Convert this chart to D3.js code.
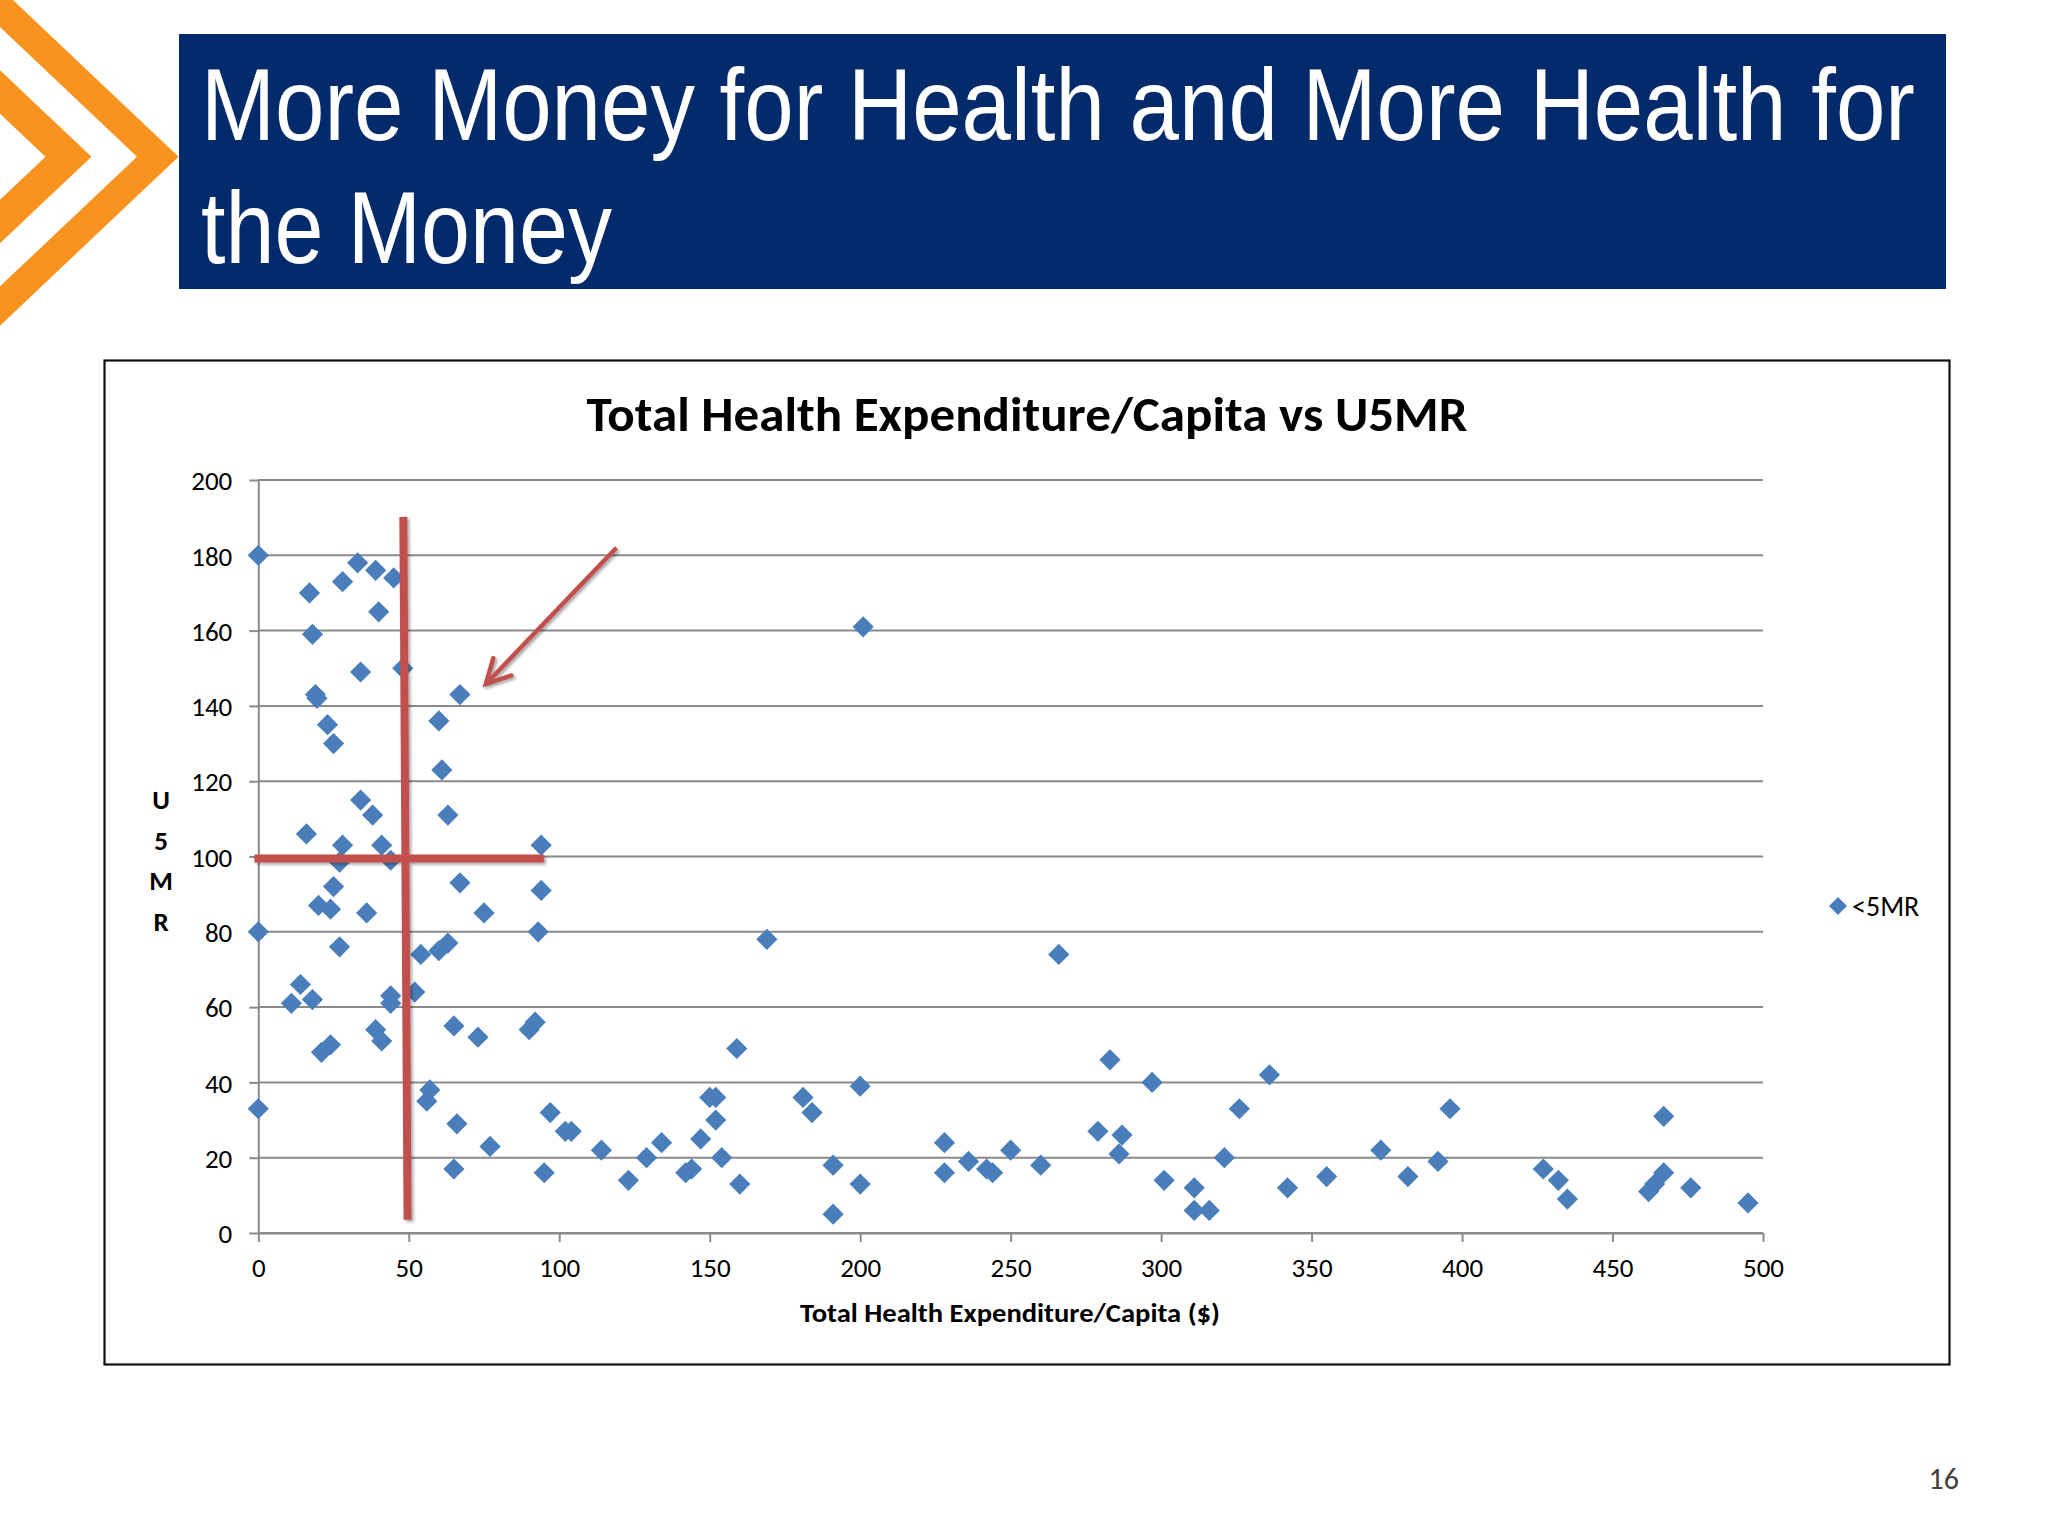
<!DOCTYPE html>
<html>
<head>
<meta charset="utf-8">
<script src="https://cdn.jsdelivr.net/npm/d3@7"></script>
<style>
  html, body { margin: 0; padding: 0; background: #ffffff; }
  svg { display: block; }
</style>
</head>
<body>
<script>
// ---------- data ----------
const healthExpenditure = [
  0, 17, 28, 33, 39, 45, 40, 18, 34, 48, 19, 19.5, 67, 23, 25, 60, 61, 63, 34, 38,
  16, 28, 41, 94, 27, 44, 25, 20, 24, 36, 27, 0, 67, 75, 94, 93, 54, 60, 63, 52,
  14, 11, 18, 44, 44, 39, 41, 21, 24, 65, 73, 90, 92, 0, 57, 56, 66, 77, 65, 97,
  102, 104, 95, 169, 159, 150, 152, 152, 147, 154, 160, 142, 144, 134, 129, 123, 114, 181, 184, 200,
  191, 200, 191, 228, 228, 236, 242, 244, 250, 201, 260, 266, 279, 283, 287, 286, 297, 301, 311, 311,
  316, 321, 326, 336, 342, 355, 373, 382, 392, 396, 427, 432, 435, 467, 467, 464, 462, 476, 495
];
const u5mr = [
  180, 170, 173, 178, 176, 174, 165, 159, 149, 150, 143, 142, 143, 135, 130, 136, 123, 111, 115, 111,
  106, 103, 103, 103, 98.5, 99, 92, 87, 86, 85, 76, 80, 93, 85, 91, 80, 74, 75, 77, 64,
  66, 61, 62, 63, 61, 54, 51, 48, 50, 55, 52, 54, 56, 33, 38, 35, 29, 23, 17, 32,
  27, 27, 16, 78, 49, 36, 36, 30, 25, 20, 13, 16, 17, 24, 20, 14, 22, 36, 32, 39,
  18, 13, 5, 24, 16, 19, 17, 16, 22, 161, 18, 74, 27, 46, 26, 21, 40, 14, 12, 6,
  6, 20, 33, 42, 12, 15, 22, 15, 19, 33, 17, 14, 9, 31, 16, 13, 11, 12, 8
];
const xTicks = [0, 50, 100, 150, 200, 250, 300, 350, 400, 450, 500];
const yTicks = [0, 20, 40, 60, 80, 100, 120, 140, 160, 180, 200];
const seriesName = "<5MR";
const slideTitle = ["More Money for Health and More Health for", "the Money"];
const chartTitle = "Total Health Expenditure/Capita vs U5MR";
const xAxisTitle = "Total Health Expenditure/Capita ($)";
const yAxisLetters = ["U", "5", "M", "R"];
const pageNumber = "16";
// annotation lines (in data units)
const verticalMarker = [[48.2, 190.2], [49.6, 3.5]];
const horizontalMarker = [[-1.3, 99.5], [94.9, 99.5]];
const arrowMarker = [[119, 182], [75.6, 145.8]];

// ---------- page ----------
const W = 2048, H = 1536;
const svg = d3.select("body").append("svg").attr("width", W).attr("height", H);
const defs = svg.append("defs");
const f = defs.append("filter").attr("id", "shadow").attr("x", "-20%").attr("y", "-20%").attr("width", "140%").attr("height", "140%");
f.append("feDropShadow").attr("dx", 2).attr("dy", 2).attr("stdDeviation", 1.6)
  .attr("flood-color", "#000").attr("flood-opacity", 0.35);

svg.append("rect").attr("width", W).attr("height", H).attr("fill", "#ffffff");

// chevrons
const orange = "#f7931e";
const chevrons = [
  [[-40, -50.1], [178.6, 156.7], [-40, 363.5], [-40, 324.2], [137, 156.7], [-40, -10.8]],
  [[-40, 32.3], [91.5, 156.7], [-40, 281.1], [-40, 237.6], [45.5, 156.7], [-40, 75.8]]
];
svg.selectAll("polygon.chev").data(chevrons).enter().append("polygon")
  .attr("class", "chev").attr("points", d => d.map(p => p.join(",")).join(" "))
  .attr("fill", orange);

// title box
svg.append("rect").attr("x", 179).attr("y", 34).attr("width", 1767).attr("height", 255)
  .attr("fill", "#032a6b");
const titleFont = "'Liberation Sans', Arial, sans-serif";
const titleLens = [1714, 411];
slideTitle.forEach((t, i) => {
  const g = svg.append("g");
  const txt = g.append("text").attr("x", 0).attr("y", 0)
    .attr("font-family", titleFont).attr("font-size", 102).attr("fill", "#ffffff")
    .text(t);
  const natural = txt.node().getComputedTextLength();
  const sx = titleLens[i] / natural;
  g.attr("transform", `translate(201,${140 + i * 122.5}) scale(${sx},1)`);
});

// chart frame
svg.append("rect").attr("x", 104.5).attr("y", 360.5).attr("width", 1845).attr("height", 1004)
  .attr("fill", "#ffffff").attr("stroke", "#111111").attr("stroke-width", 2.2);

const font = "Carlito, Calibri, Lato, 'Open Sans', sans-serif";

// scales
const x = d3.scaleLinear().domain([0, 500]).range([258.3, 1763]);
const y = d3.scaleLinear().domain([0, 200]).range([1233, 480]);

// gridlines
const grid = svg.append("g");
grid.selectAll("line").data(yTicks).enter().append("line")
  .attr("x1", x(0)).attr("x2", x(500))
  .attr("y1", d => y(d)).attr("y2", d => y(d))
  .attr("stroke", "#8a8a8a").attr("stroke-width", 2);

// axes
const axisColor = "#8a8a8a";
const yAxis = svg.append("g").attr("transform", `translate(${x(0)},0)`)
  .call(d3.axisLeft(y).tickValues(yTicks).tickSize(9).tickSizeOuter(0).tickPadding(17));
const xAxis = svg.append("g").attr("transform", `translate(0,${y(0)})`)
  .call(d3.axisBottom(x).tickValues(xTicks).tickSize(9).tickSizeOuter(0).tickPadding(16));
[xAxis, yAxis].forEach(a => {
  a.select(".domain").attr("stroke", axisColor).attr("stroke-width", 2);
  a.selectAll(".tick line").attr("stroke", axisColor).attr("stroke-width", 2);
  a.selectAll(".tick text").attr("font-family", font).attr("font-size", 27).attr("fill", "#000");
});
yAxis.selectAll(".tick text").attr("dy", "0.36em");
xAxis.selectAll(".tick text").attr("dy", "0.72em");

// chart title
svg.append("text").attr("x", 1027).attr("y", 431).attr("text-anchor", "middle")
  .attr("font-family", font).attr("font-weight", "bold").attr("font-size", 48)
  .attr("textLength", 881).attr("lengthAdjust", "spacingAndGlyphs")
  .text(chartTitle);

// axis titles
svg.append("text").attr("x", 1010).attr("y", 1322).attr("text-anchor", "middle")
  .attr("font-family", font).attr("font-weight", "bold").attr("font-size", 27)
  .attr("textLength", 420).attr("lengthAdjust", "spacingAndGlyphs")
  .text(xAxisTitle);
svg.selectAll("text.ylab").data(yAxisLetters).enter().append("text")
  .attr("class", "ylab").attr("x", 161).attr("y", (d, i) => 809 + i * 40.7)
  .attr("text-anchor", "middle").attr("font-family", font).attr("font-weight", "bold")
  .attr("font-size", 27).text(d => d);

// points
const diamond = d3.symbol().type(d3.symbolSquare).size(225);
const pts = d3.zip(healthExpenditure, u5mr);
svg.append("g").selectAll("path").data(pts).enter().append("path")
  .attr("d", diamond)
  .attr("transform", d => `translate(${x(d[0])},${y(d[1])}) rotate(45)`)
  .attr("fill", "#4a7ebb");

// legend
svg.append("path").attr("d", diamond).attr("transform", "translate(1838,906) rotate(45) scale(0.85)")
  .attr("fill", "#4a7ebb");
svg.append("text").attr("x", 1852).attr("y", 916).attr("font-family", font).attr("font-size", 28)
  .attr("fill", "#000").text(seriesName);

// red annotations
const red = "#c0504d";
const lineGen = d3.line().x(d => x(d[0])).y(d => y(d[1]));
const ann = svg.append("g").attr("filter", "url(#shadow)");
[verticalMarker, horizontalMarker].forEach(seg => {
  ann.append("path").attr("d", lineGen(seg)).attr("stroke", red).attr("stroke-width", 8)
    .attr("fill", "none").attr("stroke-linecap", "butt");
});
ann.append("path").attr("d", lineGen(arrowMarker)).attr("stroke", red).attr("stroke-width", 4.5)
  .attr("fill", "none");
// arrow head
const tip = [x(arrowMarker[1][0]), y(arrowMarker[1][1])];
const tail = [x(arrowMarker[0][0]), y(arrowMarker[0][1])];
const ang = Math.atan2(tail[1] - tip[1], tail[0] - tip[0]);
const headLen = 27, spread = Math.PI / 6.5;
const headPts = [
  [tip[0] + headLen * Math.cos(ang + spread), tip[1] + headLen * Math.sin(ang + spread)],
  tip,
  [tip[0] + headLen * Math.cos(ang - spread), tip[1] + headLen * Math.sin(ang - spread)]
];
ann.append("path").attr("d", d3.line()(headPts)).attr("stroke", red).attr("stroke-width", 4.5)
  .attr("fill", "none").attr("stroke-linecap", "round").attr("stroke-linejoin", "miter");

// page number
svg.append("text").attr("x", 1959).attr("y", 1489).attr("text-anchor", "end")
  .attr("font-family", font).attr("font-size", 30).attr("fill", "#404040").text(pageNumber);
</script>
</body>
</html>
